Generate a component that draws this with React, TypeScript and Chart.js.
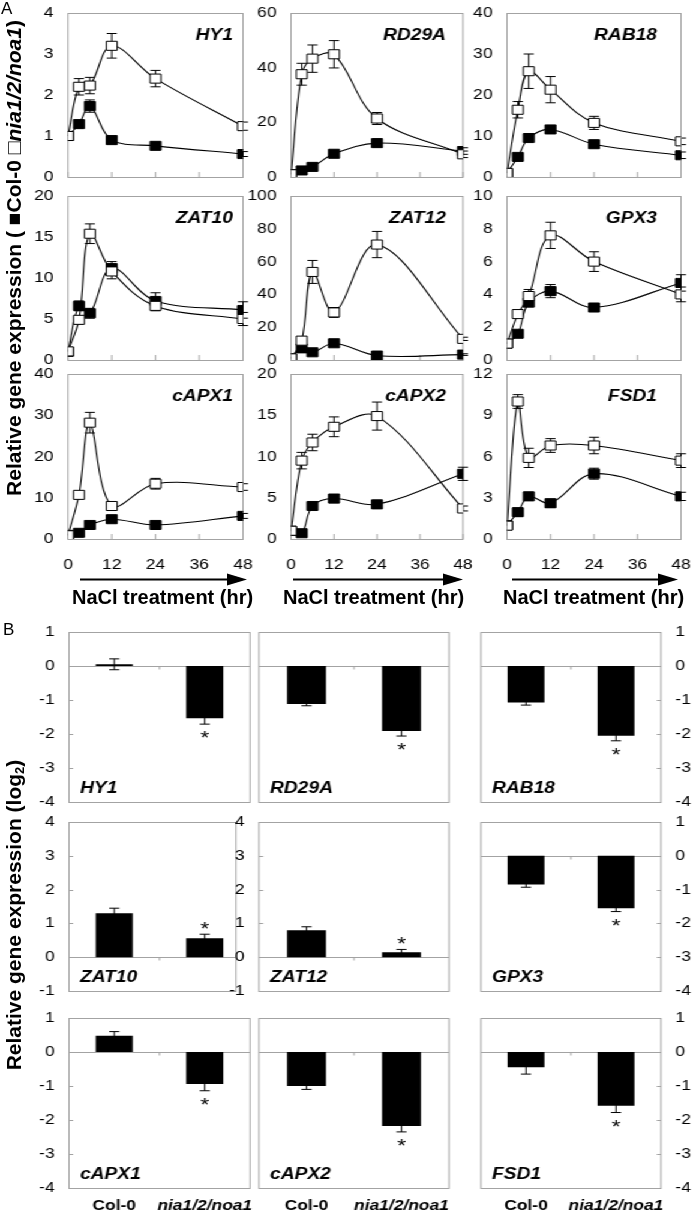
import React, { useEffect, useRef } from 'react';
import { Chart, registerables } from 'chart.js';

Chart.register(...registerables);

// horizontal stretch of the pasted spreadsheet charts
const S = 1.2;
const FONT = '"Liberation Sans", Arial, Helvetica, sans-serif';
const GRID = '#a3a3a3';

// ---------------- Panel A: time course ----------------
const hours = [0, 3, 6, 12, 24, 48];
const lineGenes = ['HY1', 'RD29A', 'RAB18', 'ZAT10', 'ZAT12', 'GPX3', 'cAPX1', 'cAPX2', 'FSD1'];

const hy1Mut = [1.0, 2.2, 2.23, 3.2, 2.4, 1.24];
const hy1MutErr = [0, 0.2, 0.2, 0.3, 0.2, 0.1];
const hy1Col = [1.0, 1.29, 1.73, 0.9, 0.76, 0.56];
const hy1ColErr = [0, 0.08, 0.15, 0.06, 0.06, 0.06];

const rd29aMut = [1.0, 37.6, 43.3, 44.9, 21.4, 8.3];
const rd29aMutErr = [0, 4, 5, 5, 2.2, 1.2];
const rd29aCol = [1.0, 2.4, 3.7, 8.5, 12.4, 9.5];
const rd29aColErr = [0, 0.8, 0.8, 1.2, 1.2, 1.2];

const rab18Mut = [1.0, 16.4, 25.8, 21.3, 13.2, 8.7];
const rab18MutErr = [0, 2.0, 4.2, 3.2, 1.6, 0.8];
const rab18Col = [1.0, 4.9, 9.5, 11.6, 8.0, 5.3];
const rab18ColErr = [0, 0.8, 0.8, 0.8, 0.8, 0.8];

const zat10Mut = [1.05, 4.9, 15.4, 10.8, 6.6, 5.0];
const zat10MutErr = [0, 0.5, 1.2, 0.9, 0.6, 0.8];
const zat10Col = [1.0, 6.6, 5.7, 11.2, 7.2, 6.1];
const zat10ColErr = [0, 0.6, 0.6, 0.8, 1.0, 1.0];

const zat12Mut = [1.0, 11.8, 53.7, 29.0, 70.4, 12.9];
const zat12MutErr = [0, 1.5, 7, 3, 8, 1];
const zat12Col = [1.0, 7.1, 4.7, 10.2, 2.7, 3.3];
const zat12ColErr = [0, 1.0, 0.8, 0.8, 0.3, 0.5];

const gpx3Mut = [1.0, 2.8, 3.9, 7.6, 6.0, 4.0];
const gpx3MutErr = [0, 0.2, 0.4, 0.8, 0.6, 0.45];
const gpx3Col = [1.0, 1.6, 3.5, 4.2, 3.2, 4.7];
const gpx3ColErr = [0, 0.15, 0.2, 0.4, 0.2, 0.5];

const capx1Mut = [0.9, 10.7, 28.2, 8.0, 13.4, 12.6];
const capx1MutErr = [0, 0.5, 2.5, 0.5, 1.3, 0.8];
const capx1Col = [1.0, 1.5, 3.4, 4.8, 3.4, 5.6];
const capx1ColErr = [0, 0.3, 0.4, 0.5, 0.4, 0.6];

const capx2Mut = [1.0, 9.5, 11.7, 13.6, 14.9, 3.7];
const capx2MutErr = [0, 1.0, 1.0, 1.2, 1.7, 0.3];
const capx2Col = [1.0, 0.7, 4.0, 4.9, 4.2, 7.9];
const capx2ColErr = [0, 0.1, 0.4, 0.5, 0.4, 0.8];

const fsd1Mut = [0.97, 10.0, 5.9, 6.8, 6.8, 5.7];
const fsd1MutErr = [0, 0.5, 0.7, 0.5, 0.6, 0.5];
const fsd1Col = [1.0, 1.95, 3.1, 2.6, 4.75, 3.1];
const fsd1ColErr = [0, 0.3, 0.3, 0.3, 0.4, 0.3];

const lineYMax = [4, 60, 40, 20, 100, 10, 40, 20, 12];
const lineYStep = [1, 20, 10, 5, 20, 2, 10, 5, 3];

const lineMut = [hy1Mut, rd29aMut, rab18Mut, zat10Mut, zat12Mut, gpx3Mut, capx1Mut, capx2Mut, fsd1Mut];
const lineMutErr = [hy1MutErr, rd29aMutErr, rab18MutErr, zat10MutErr, zat12MutErr, gpx3MutErr, capx1MutErr, capx2MutErr, fsd1MutErr];
const lineCol = [hy1Col, rd29aCol, rab18Col, zat10Col, zat12Col, gpx3Col, capx1Col, capx2Col, fsd1Col];
const lineColErr = [hy1ColErr, rd29aColErr, rab18ColErr, zat10ColErr, zat12ColErr, gpx3ColErr, capx1ColErr, capx2ColErr, fsd1ColErr];

// ---------------- Panel B: log2 ratios ----------------
const genotypes = ['Col-0', 'nia1/2/noa1'];
const significant = [false, true];

const hy1Log = [0.05, -1.54];
const hy1LogErr = [0.16, 0.17];
const rd29aLog = [-1.12, -1.91];
const rd29aLogErr = [0.05, 0.15];
const rab18Log = [-1.07, -2.05];
const rab18LogErr = [0.08, 0.15];
const zat10Log = [1.3, 0.56];
const zat10LogErr = [0.15, 0.12];
const zat12Log = [0.8, 0.15];
const zat12LogErr = [0.1, 0.08];
const gpx3Log = [-0.85, -1.55];
const gpx3LogErr = [0.08, 0.1];
const capx1Log = [0.48, -0.94];
const capx1LogErr = [0.12, 0.2];
const capx2Log = [-1.0, -2.18];
const capx2LogErr = [0.1, 0.17];
const fsd1Log = [-0.45, -1.58];
const fsd1LogErr = [0.2, 0.2];

const barVals = [hy1Log, rd29aLog, rab18Log, zat10Log, zat12Log, gpx3Log, capx1Log, capx2Log, fsd1Log];
const barErrs = [hy1LogErr, rd29aLogErr, rab18LogErr, zat10LogErr, zat12LogErr, gpx3LogErr, capx1LogErr, capx2LogErr, fsd1LogErr];
const barYMin = [-4, -4, -4, -1, -1, -4, -4, -4, -4];
const barYMax = [1, 1, 1, 4, 4, 1, 1, 1, 1];

// ---------------- layout (page pixels) ----------------
const colsA = [[68, 243], [291, 463], [507, 681]];
const rowsA = [[13, 177], [196, 360], [374, 539]];
const colsB = [[69, 250], [259, 449], [481, 661]];
const rowsB = [[632, 802], [822, 991], [1018, 1188]];
const geneInsetA = [10, 17, 24];
const arrowSpans = [[80, 247], [293, 463], [512, 678]];
const naclLeft = [72, 283, 503];
// the ZAT10 frame is partly covered by the ZAT12 axis labels in the figure
const frameCutB = [0, 0, 0, 14, 0, 0, 0, 0, 0];

const tickFont = { family: FONT, size: 14.5 };

type Fit = { pad: any; ySize: number; xSize: number; yRight: boolean };

const fixY = (f: Fit) => (s: any) => {
  s.width = f.ySize;
  s.paddingTop = 0;
  s.paddingBottom = 0;
  s.paddingLeft = 0;
  s.paddingRight = 0;
};
const fixX = (f: Fit) => (s: any) => {
  s.height = f.xSize;
  s.paddingTop = 0;
  s.paddingBottom = 0;
  s.paddingLeft = 0;
  s.paddingRight = 0;
};

function errorBar(ctx: any, px: number, y1: number, y2: number, cap: number) {
  ctx.beginPath();
  ctx.moveTo(px, y1);
  ctx.lineTo(px, y2);
  ctx.moveTo(px - cap, y1);
  ctx.lineTo(px + cap, y1);
  ctx.moveTo(px - cap, y2);
  ctx.lineTo(px + cap, y2);
  ctx.stroke();
}

function lineConfig(i: number, f: Fit) {
  const row = Math.floor(i / 3);
  const col = i % 3;
  const series = [
    { vals: lineMut[i], errs: lineMutErr[i] },
    { vals: lineCol[i], errs: lineColErr[i] },
  ];
  const ds = (vals: number[], filled: boolean) => ({
    data: hours.map((h, k) => ({ x: h, y: vals[k] })),
    borderColor: '#000',
    borderWidth: 1.1,
    pointStyle: 'rect',
    pointRadius: 6.4,
    pointHoverRadius: 6.4,
    pointBackgroundColor: filled ? '#000' : '#fff',
    pointBorderColor: '#000',
    pointBorderWidth: 1,
    tension: 0.35,
    fill: false,
  });
  const plugin = {
    id: 'decorA' + i,
    beforeDatasetsDraw(chart: any) {
      const { ctx, chartArea: a, scales } = chart;
      const x = scales.x;
      const y = scales.y;
      ctx.save();
      ctx.strokeStyle = GRID;
      ctx.lineWidth = 1;
      ctx.strokeRect(a.left, Math.round(a.top) + 0.5, a.right - a.left, Math.round(a.bottom) - Math.round(a.top));
      ctx.beginPath();
      x.ticks.forEach((t: any) => {
        const px = x.getPixelForValue(t.value);
        ctx.moveTo(px, a.bottom);
        ctx.lineTo(px, a.bottom - 5);
      });
      ctx.stroke();
      ctx.strokeStyle = '#000';
      ctx.lineWidth = 1;
      series.forEach((s) => {
        s.vals.forEach((v, k) => {
          if (!s.errs[k]) return;
          errorBar(ctx, x.getPixelForValue(hours[k]), y.getPixelForValue(v + s.errs[k]), y.getPixelForValue(v - s.errs[k]), 4.2);
        });
      });
      ctx.restore();
    },
    afterDatasetsDraw(chart: any) {
      const { ctx, chartArea: a } = chart;
      ctx.save();
      ctx.font = `italic bold 16px ${FONT}`;
      ctx.fillStyle = '#000';
      ctx.textAlign = 'right';
      ctx.textBaseline = 'alphabetic';
      ctx.fillText(lineGenes[i], a.right - geneInsetA[col] / S, a.top + 27);
      ctx.restore();
    },
  };
  return {
    type: 'line',
    data: { datasets: [ds(lineMut[i], false), ds(lineCol[i], true)] },
    options: {
      animation: false,
      responsive: false,
      events: [],
      layout: { padding: f.pad },
      plugins: { legend: { display: false }, tooltip: { enabled: false } },
      scales: {
        x: {
          type: 'linear',
          min: 0,
          max: 48,
          ticks: { stepSize: 12, display: row === 2, font: tickFont, color: '#000', padding: 17, maxRotation: 0, autoSkip: false },
          grid: { display: false, drawTicks: false },
          border: { display: false },
          afterFit: fixX(f),
        },
        y: {
          type: 'linear',
          min: 0,
          max: lineYMax[i],
          ticks: { stepSize: lineYStep[i], font: tickFont, color: '#000', padding: 12 },
          grid: { display: false, drawTicks: false },
          border: { display: false },
          afterFit: fixY(f),
        },
      },
    },
    plugins: [plugin],
  };
}

function barConfig(i: number, f: Fit) {
  const row = Math.floor(i / 3);
  const col = i % 3;
  const vals = barVals[i];
  const errs = barErrs[i];
  const right = f.yRight;
  const showY = col !== 1 || i === 4;
  const plugin = {
    id: 'decorB' + i,
    beforeDatasetsDraw(chart: any) {
      const { ctx, chartArea: a, scales } = chart;
      const y = scales.y;
      const fr = a.right - frameCutB[i] / S;
      ctx.save();
      ctx.strokeStyle = GRID;
      ctx.lineWidth = 1;
      ctx.strokeRect(a.left, Math.round(a.top) + 0.5, fr - a.left, Math.round(a.bottom) - Math.round(a.top));
      const y0 = Math.round(y.getPixelForValue(0)) + 0.5;
      ctx.beginPath();
      ctx.moveTo(a.left, y0);
      ctx.lineTo(fr, y0);
      const mid = (a.left + a.right) / 2;
      ctx.moveTo(mid, y0);
      ctx.lineTo(mid, y0 + 3);
      if (showY) {
        y.ticks.forEach((t: any) => {
          const py = Math.round(y.getPixelForValue(t.value)) + 0.5;
          if (right) {
            ctx.moveTo(a.right, py);
            ctx.lineTo(a.right - 3.5, py);
          } else {
            ctx.moveTo(a.left, py);
            ctx.lineTo(a.left + 3.5, py);
          }
        });
      }
      ctx.stroke();
      ctx.restore();
    },
    afterDatasetsDraw(chart: any) {
      const { ctx, chartArea: a, scales } = chart;
      const y = scales.y;
      const meta = chart.getDatasetMeta(0);
      ctx.save();
      ctx.strokeStyle = '#000';
      ctx.fillStyle = '#000';
      ctx.lineWidth = 1;
      vals.forEach((v, k) => {
        const px = meta.data[k].x;
        errorBar(ctx, px, y.getPixelForValue(v + errs[k]), y.getPixelForValue(v - errs[k]), 4.2);
        if (significant[k]) {
          ctx.font = `19px ${FONT}`;
          ctx.textAlign = 'center';
          ctx.textBaseline = 'alphabetic';
          const center = v < 0 ? y.getPixelForValue(v - errs[k]) + 9 : y.getPixelForValue(v + errs[k]) - 10;
          ctx.fillText('*', px, center + 11);
        }
      });
      ctx.font = `italic bold 16px ${FONT}`;
      ctx.textAlign = 'left';
      ctx.fillText(lineGenes[i], a.left + 11 / S, a.bottom - 9);
      ctx.restore();
    },
  };
  return {
    type: 'bar',
    data: {
      labels: genotypes,
      datasets: [{ data: vals, backgroundColor: '#000', borderWidth: 0, barPercentage: 0.41, categoryPercentage: 1 }],
    },
    options: {
      animation: false,
      responsive: false,
      events: [],
      layout: { padding: f.pad },
      plugins: { legend: { display: false }, tooltip: { enabled: false } },
      scales: {
        x: {
          ticks: {
            display: row === 2,
            font: (c: any) => ({ family: FONT, size: 14.5, weight: 'bold', style: c.index === 1 ? 'italic' : 'normal' }),
            color: '#000',
            padding: 9,
            maxRotation: 0,
            autoSkip: false,
          },
          grid: { display: false, drawTicks: false },
          border: { display: false },
          afterFit: fixX(f),
        },
        y: {
          position: right ? 'right' : 'left',
          min: barYMin[i],
          max: barYMax[i],
          ticks: { display: showY, stepSize: 1, font: tickFont, color: '#000', padding: 12 },
          grid: { display: false, drawTicks: false },
          border: { display: false },
          afterFit: fixY(f),
        },
      },
    },
    plugins: [plugin],
  };
}

function ChartCanvas({ rect, margin, yRight, make }: { rect: number[]; margin: number[]; yRight: boolean; make: (f: Fit) => any }) {
  const ref = useRef<HTMLCanvasElement | null>(null);
  const [pl, pr, pt, pb] = rect;
  const [ml, mr, mt, mb] = margin;
  const uL = pl / S;
  const uR = pr / S;
  const cl = Math.floor(uL - ml / S);
  const cr = Math.ceil(uR + mr / S);
  const ct = pt - mt;
  const cb = pb + mb;
  const w = cr - cl;
  const h = cb - ct;
  useEffect(() => {
    const leftSpace = uL - cl;
    const rightSpace = cr - uR;
    const f: Fit = {
      pad: {
        left: yRight ? leftSpace : 0,
        right: yRight ? 0 : rightSpace,
        top: mt,
        bottom: 0,
      },
      ySize: yRight ? rightSpace : leftSpace,
      xSize: mb,
      yRight,
    };
    const chart = new Chart(ref.current as HTMLCanvasElement, make(f) as any);
    return () => chart.destroy();
  }, []);
  return (
    <canvas
      ref={ref}
      width={w}
      height={h}
      style={{ position: 'absolute', left: cl, top: ct, width: w, height: h }}
    />
  );
}

function RotatedTitle({ cx, cy, children }: { cx: number; cy: number; children: any }) {
  const L = 600;
  return (
    <div
      style={{
        position: 'absolute',
        left: cx - L / 2,
        top: cy - 12,
        width: L,
        height: 24,
        lineHeight: '24px',
        textAlign: 'center',
        whiteSpace: 'nowrap',
        transform: 'rotate(-90deg)',
        fontFamily: FONT,
        fontWeight: 'bold',
        fontSize: 21,
        color: '#000',
      }}
    >
      {children}
    </div>
  );
}

export default function App() {
  return (
    <div style={{ position: 'absolute', left: 0, top: 0, width: 697, height: 1215, overflow: 'hidden', background: '#fff' }}>
      <div
        style={{
          position: 'absolute',
          left: 0,
          top: 0,
          width: 697 / S,
          height: 1215,
          transform: `scaleX(${S})`,
          transformOrigin: '0 0',
        }}
      >
        {lineGenes.map((g, i) => {
          const c = colsA[i % 3];
          const r = rowsA[Math.floor(i / 3)];
          const last = Math.floor(i / 3) === 2;
          return (
            <ChartCanvas
              key={'a' + g}
              rect={[c[0], c[1], r[0], r[1]]}
              margin={[52, 16, 12, last ? 40 : 12]}
              yRight={false}
              make={(f) => lineConfig(i, f)}
            />
          );
        })}
        {lineGenes.map((g, i) => {
          const c = colsB[i % 3];
          const r = rowsB[Math.floor(i / 3)];
          const last = Math.floor(i / 3) === 2;
          const col = i % 3;
          return (
            <ChartCanvas
              key={'b' + g}
              rect={[c[0], c[1], r[0], r[1]]}
              margin={[col === 2 ? 14 : 50, col === 2 ? 40 : 14, 12, last ? 30 : 12]}
              yRight={col === 2}
              make={(f) => barConfig(i, f)}
            />
          );
        })}
      </div>

      <svg width={697} height={1215} style={{ position: 'absolute', left: 0, top: 0, pointerEvents: 'none' }}>
        {arrowSpans.map(([a, b], k) => (
          <g key={k}>
            <line x1={a} y1={579.5} x2={b - 18} y2={579.5} stroke="#000" strokeWidth={2} />
            <polygon points={`${b - 20},573.5 ${b},579.5 ${b - 20},585.5`} fill="#000" />
          </g>
        ))}
      </svg>

      {naclLeft.map((x, k) => (
        <div
          key={k}
          style={{
            position: 'absolute',
            left: x,
            top: 587,
            fontFamily: FONT,
            fontWeight: 'bold',
            fontSize: 20,
            lineHeight: '20px',
            whiteSpace: 'nowrap',
            color: '#000',
          }}
        >
          NaCl treatment (hr)
        </div>
      ))}

      <div style={{ position: 'absolute', left: 1, top: 0, fontFamily: FONT, fontSize: 17, lineHeight: '17px', color: '#000' }}>A</div>
      <div style={{ position: 'absolute', left: 3, top: 621, fontFamily: FONT, fontSize: 17, lineHeight: '17px', color: '#000' }}>B</div>

      <RotatedTitle cx={13.5} cy={258}>
        Relative gene expression ( ■Col-0 □<i>nia1/2/noa1</i>)
      </RotatedTitle>
      <RotatedTitle cx={13.5} cy={915}>
        Relative gene expression (log<sub style={{ fontSize: 13, verticalAlign: '-3px', lineHeight: 0 }}>2</sub>)
      </RotatedTitle>
    </div>
  );
}
